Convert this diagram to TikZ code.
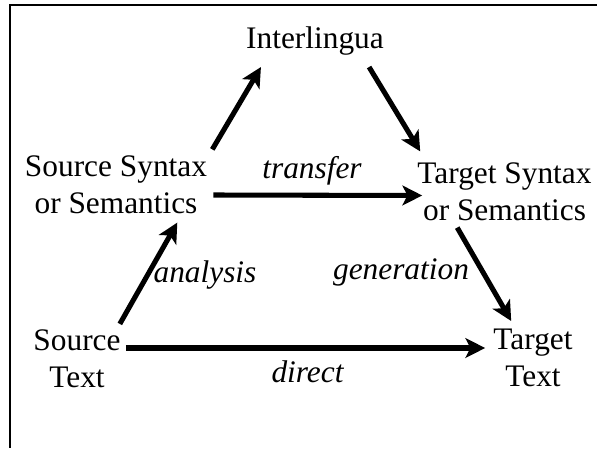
\documentclass[tikz,border=0pt]{standalone}
\usepackage{fontspec}
\setmainfont{Liberation Serif}
\usetikzlibrary{arrows.meta,calc}

\begin{document}
\begin{tikzpicture}[
  x=0.025cm, y=-0.025cm,
  font=\fontsize{22.3}{26}\selectfont,
  term/.style={inner sep=0pt, align=center},
  lbl/.style={inner sep=0pt, anchor=base, font=\fontsize{22.3}{26}\selectfont\itshape},
  flow/.style={line width=3.6pt, -{Stealth[length=14pt, width=14pt, inset=3.5pt]}}
]
  \useasboundingbox (0,0) rectangle (597,448);
  \draw[line width=1.4pt] (597,5) -- (10,5) -- (10,448);

  % top of the triangle
  \node[term, anchor=base] (inter) at (315,48) {Interlingua};

  % middle row
  \node[term] (srcsyn) at (116,184.5) {Source Syntax\\or Semantics};
  \node[term] (tgtsyn) at (504.5,191.5) {Target Syntax\\or Semantics};

  % bottom row
  \node[term] (srctxt) at (77,359) {Source\\Text};
  \node[term] (tgttxt) at (533,358) {Target\\Text};

  % arrows
  \draw[flow] ([shift={(5,-6)}]srcsyn.north east) -- ([shift={(15,12)}]inter.south west);
  \draw[flow] ([shift={(-15,12)}]inter.south east) -- ([shift={(3,-11)}]tgtsyn.north west);
  \draw[flow] ([shift={(6,10.5)}]srcsyn.east) -- ([shift={(5,4)}]tgtsyn.west);
  \draw[flow] ([shift={(-1,-6)}]srctxt.north east) -- ([shift={(-30,9)}]srcsyn.south east);
  \draw[flow] ([shift={(40,7)}]tgtsyn.south west) -- ([shift={(18,-8)}]tgttxt.north west);
  \draw[flow] ([shift={(5,-11)}]srctxt.east) -- ([shift={(-8,-10)}]tgttxt.west);

  % arrow labels
  \node[lbl] (transfer) at (312,178) {transfer};
  \node[lbl] (analysis) at (205,282) {analysis};
  \node[lbl] (generation) at (401,279) {generation};
  \node[lbl] (direct) at (307.5,382) {direct};
\end{tikzpicture}
\end{document}
